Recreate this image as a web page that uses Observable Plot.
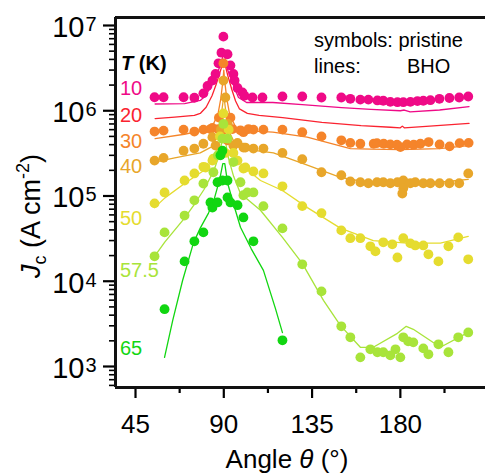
<!DOCTYPE html>
<html><head><meta charset="utf-8">
<script src="https://cdn.jsdelivr.net/npm/d3@7"></script>
<script src="https://cdn.jsdelivr.net/npm/@observablehq/plot@0.6"></script>
<style>
body{margin:0;background:#fff;}
svg{display:block;}
</style></head><body><div id="chart"></div>
<script>
// ---- tick values ----
const xMajor = [45, 90, 135, 180];
const xMinor = [67.5, 112.5, 157.5, 202.5];
const yMajor = [1e3, 1e4, 1e5, 1e6, 1e7];
const yExp = ["3", "4", "5", "6", "7"];
const yMinor = [];
for (let k = 2; k <= 6; k++) for (let m = 2; m <= 9; m++) { const v = m * 10 ** k; if (v > 567 && v < 1.24e7) yMinor.push(v); }

// ---- temperatures / colours ----
const temps = ["10", "20", "30", "40", "50", "57.5", "65"];
const colors = ["#ef0a87", "#fa2330", "#f5842a", "#e8a62a", "#e5dc2f", "#a8e43a", "#11d611"];

// ---- pristine (symbols) ----
const p10A = [54.7,59.3,69.5,75,79.6,81.7,84.2,85.8,87.3,88.8,89.8,91.9,93.4,94.9,95.5,97,99.5,100.5,104.6,109.7,119.9,130,139.8,149.9,154.5,159.6,163.7,168.3,171.3,174.9,178.5,181.5,185.1,188.7,191.7,195.3,199.9,205,210,214.6];
const p10J = [1.44e6,1.44e6,1.44e6,1.42e6,1.6e6,1.95e6,2.26e6,2.7e6,3.6e6,4.8e6,7.4e6,4.6e6,3.4e6,2.7e6,2.26e6,1.85e6,1.64e6,1.5e6,1.43e6,1.43e6,1.47e6,1.47e6,1.43e6,1.43e6,1.38e6,1.35e6,1.35e6,1.32e6,1.31e6,1.27e6,1.26e6,1.26e6,1.27e6,1.3e6,1.31e6,1.33e6,1.38e6,1.41e6,1.43e6,1.47e6];
const p30A = [54.7,59.3,69.5,75,79.6,83.2,84.2,87.2,87.5,89.3,89.8,91.9,93.4,94.4,98.5,100,102.6,105.1,110.2,119.9,130,139.8,149.9,154.5,159.6,166.4,168.1,171.5,174.9,178.3,180,183.4,186.8,190.2,194.4,200,205.1,210.2,214.8];
const p30J = [5.7e5,5.85e5,6.0e5,5.7e5,6.0e5,6.1e5,6.3e5,6.1e5,8.3e5,5.9e5,3.6e6,4.5e5,8.3e5,6.1e5,5.9e5,5.6e5,6.1e5,6.0e5,6.0e5,6.0e5,5.6e5,5.0e5,4.5e5,4.2e5,4.1e5,4.1e5,4.17e5,4.1e5,4.03e5,4.0e5,3.74e5,4.03e5,4.0e5,4.1e5,4.29e5,4.03e5,3.82e5,4.17e5,4.2e5];
const p40A = [54.7,59.3,69.5,75,79.6,84.2,85.8,88.5,89.8,90.8,92,94.9,97,100,101,105.1,110.2,119.9,130,139.8,149.9,154.5,159.6,163.7,168.1,171.3,174.9,178.5,181.5,181.5,181,185.1,187.6,191.7,195.3,200,205,210,214.6];
const p40J = [2.6e5,2.8e5,3.4e5,3.6e5,4.1e5,4.9e5,3.9e5,6e5,2.26e6,1.43e6,7e5,3.9e5,4.2e5,3.7e5,3.7e5,3.6e5,3.6e5,3.2e5,2.7e5,1.9e5,1.75e5,1.48e5,1.45e5,1.41e5,1.45e5,1.45e5,1.41e5,1.45e5,1.52e5,1.23e5,1.07e5,1.41e5,1.45e5,1.41e5,1.41e5,1.41e5,1.41e5,1.41e5,1.84e5];
const p50A = [54.7,59.8,70,75,79.6,80.7,84.2,84.7,88,89.8,90.8,92.5,94.9,97,100,101,105.1,110.2,119.9,130,139.8,149.9,154.5,159.6,164.7,167.3,171.3,175.9,178.5,181.5,185.1,187.6,191.7,194.3,199.4,204.5,209.5,214.6];
const p50J = [8.2e4,1.1e5,1.52e5,1.84e5,2.2e5,2.16e5,2.6e5,2.75e5,5e5,9.3e5,3.2e5,6e5,3.2e5,2.6e5,2.1e5,2.16e5,1.94e5,1.84e5,1.3e5,7.6e4,6.3e4,3.95e4,3.2e4,3.2e4,2.57e4,2.24e4,2.86e4,2.71e4,1.9e4,3.2e4,2.78e4,2.63e4,2.63e4,2.07e4,1.71e4,2.57e4,3.27e4,1.81e4];
const p575A = [54.7,59.8,70,75,79.6,84.7,87,89.3,89.8,91.9,94.9,98.5,100,102,105.1,110.2,119.9,130,139.8,149.9,154.5,159.6,164.7,168.3,171.3,174.9,177.5,180,181.5,184,186.6,191.7,194.3,199.4,204.5,209.5,214.6];
const p575J = [1.96e4,3.74e4,5.9e4,8.9e4,1.4e5,1.9e5,3e5,4.7e5,7e5,4.7e5,2.5e5,1.45e5,1.02e5,1.1e5,1.1e5,7.6e4,4.17e4,1.58e4,7.6e3,2.96e3,2.2e3,1.28e3,1.59e3,1.47e3,1.47e3,1.35e3,1.59e3,1.28e3,2.2e3,1.97e3,1.92e3,1.63e3,1.39e3,1.82e3,1.47e3,2.2e3,2.51e3];
const p65A = [59.8,70,75,79.6,83.2,84.2,86.8,86.8,88.3,89.3,89.3,91.9,91.9,93.4,97,100,105.1,119.9];
const p65J = [4.7e3,1.71e4,2.94e4,3.74e4,8.4e4,7.3e4,8.4e4,1.45e5,3e5,3.4e5,1.52e5,1.52e5,9.6e4,8.4e4,7.8e4,5.6e4,2.94e4,2.03e3];

// ---- BHO (lines) ----
const l10A = [55,70,78,80.7,83.7,86,88,89.5,90,90.5,92,95,97.5,101.6,115,130,150,165,180,182,185,200,215];
const l10J = [1.2e6,1.21e6,1.32e6,1.5e6,1.97e6,2.5e6,3.3e6,4.3e6,4.6e6,4.3e6,3e6,1.97e6,1.43e6,1.25e6,1.25e6,1.18e6,1.09e6,1.04e6,1.0e6,1.02e6,0.97e6,1.02e6,1.12e6];
const l20A = [55,65,75,78,81,84,86,88,89.5,90,90.5,92,94,96,98,102,108,120,140,160,175,180,181,182,195,215];
const l20J = [8.1e5,8.4e5,8.8e5,9.3e5,1.1e6,1.5e6,2.0e6,2.8e6,3.6e6,4.0e6,3.6e6,2.6e6,1.8e6,1.3e6,1.05e6,9.3e5,8.8e5,8.3e5,7.3e5,6.7e5,6.4e5,6.3e5,6.6e5,6.3e5,6.6e5,7.1e5];
const l30A = [55,70,79,84,87,88.5,89.5,90,90.5,91.5,93,96,98.5,115,132.5,154.5,165,180,200,214.6];
const l30J = [4.7e5,5.3e5,5.9e5,6.5e5,9e5,1.4e6,2.2e6,3.0e6,2.2e6,1.4e6,9e5,6.5e5,5.9e5,5.6e5,4.9e5,3.6e5,3.55e5,3.5e5,3.6e5,3.9e5];
const l40A = [54.7,65,78,84,87,89,90,91,93,96,98.5,115.3,132.6,149.4,163.2,183.5,200,214.6];
const l40J = [2.5e5,2.8e5,3.2e5,3.8e5,5.5e5,1.0e6,1.5e6,1.0e6,5.5e5,4e5,3.6e5,3.2e5,2.3e5,1.65e5,1.45e5,1.4e5,1.45e5,1.57e5];
const l50A = [54.7,60,70,80,85,88,90,92,95,100,108.7,119.9,132.6,149.4,166.2,183.5,200.4,214.6];
const l50J = [7.3e4,9.5e4,1.4e5,2e5,2.8e5,4.5e5,7e5,4.5e5,3e5,2.2e5,1.52e5,1.16e5,7.3e4,4.2e4,3.0e4,2.8e4,2.8e4,3.36e4];
const l575A = [54.7,60,70,75,80,85,88,89.5,90.5,92,95,98.5,108.7,119.9,130,140.8,149.4,159.6,166.2,178.5,183,186.6,200.4,214.6];
const l575J = [1.96e4,2.9e4,5.5e4,8e4,1.2e5,2e5,3.2e5,5e5,5e5,3e5,1.7e5,1.07e5,6.8e4,3.27e4,1.62e4,5.97e3,3.04e3,1.68e3,1.68e3,2.45e3,2.96e3,2.73e3,1.68e3,2.51e3];
const l65A = [59.8,64,69,74.5,78,82.2,85,88,89.5,90.5,92,95,98.5,104,110.2,116.3,119.9];
const l65J = [1.28e3,3.5e3,1.02e4,2.8e4,4.2e4,6.3e4,9e4,1.6e5,2.4e5,2.4e5,1.4e5,8e4,4.3e4,2.4e4,1.34e4,4.8e3,2.5e3];

const symbolSets = [["10", p10A, p10J], ["30", p30A, p30J], ["40", p40A, p40J], ["50", p50A, p50J], ["57.5", p575A, p575J], ["65", p65A, p65J]];
const lineSets = [["10", l10A, l10J], ["20", l20A, l20J], ["30", l30A, l30J], ["40", l40A, l40J], ["50", l50A, l50J], ["57.5", l575A, l575J], ["65", l65A, l65J]];
const pts = symbolSets.flatMap(([T, A, J]) => A.map((a, i) => ({T, a, j: J[i]})));
const lns = lineSets.flatMap(([T, A, J]) => A.map((a, i) => ({T, a, j: J[i]})));

const FONT = "'Liberation Sans', Arial, sans-serif";
const xDom = [34.8, 223.4], yDom = [567, 1.241e7];

const plot = Plot.plot({
  width: 485, height: 474,
  marginLeft: 115, marginRight: 0, marginTop: 17, marginBottom: 87,
  style: {fontFamily: FONT, background: "white", color: "black"},
  x: {domain: xDom},
  y: {type: "log", domain: yDom},
  color: {type: "ordinal", domain: temps, range: colors},
  marks: [
    Plot.line(lns, {x: "a", y: "j", z: "T", stroke: "T", strokeWidth: 1.3}),
    Plot.dot(pts, {x: "a", y: "j", fill: "T", r: 4.9}),
    Plot.axisX(xMajor, {tickSize: 11, tickPadding: 16, strokeWidth: 2.2, fontSize: 26, label: null, tickFormat: d => String(d), fill: "black"}),
    Plot.axisX(xMinor, {tickSize: 6, strokeWidth: 2.2, tickFormat: () => "", label: null}),
    Plot.axisY(yMajor, {tickSize: 12, strokeWidth: 2.2, tickFormat: () => "", label: null}),
    Plot.axisY(yMinor, {tickSize: 6, strokeWidth: 1.6, tickFormat: () => "", label: null}),
    Plot.text(yMajor, {y: d => d, text: () => "10", frameAnchor: "left", textAnchor: "end", dx: -31, dy: 2, fontSize: 29, fill: "black"}),
    Plot.text(yMajor, {y: d => d, text: (d, i) => yExp[i], frameAnchor: "left", textAnchor: "start", dx: -30, dy: -1, fontSize: 20, fill: "black"}),
    Plot.ruleX([xDom[0]], {stroke: "#111", strokeWidth: 3}),
    Plot.ruleY([yDom[0], yDom[1]], {stroke: "#111", strokeWidth: 3})
  ]
});
document.getElementById("chart").appendChild(plot);

// ---- annotations ----
const svg = d3.select(plot);
const g = svg.append("g").attr("font-family", FONT).attr("text-anchor", "start");
// y title
const yt = g.append("text").attr("transform", "translate(40,216) rotate(-90)").attr("text-anchor", "middle").attr("font-size", 27).attr("fill", "black");
yt.append("tspan").attr("font-style", "italic").text("J");
yt.append("tspan").attr("font-size", 18).attr("dy", 6).text("c");
yt.append("tspan").attr("dy", -6).text(" (A cm");
yt.append("tspan").attr("font-size", 18).attr("dy", -11).text("-2");
yt.append("tspan").attr("dy", 11).text(")");
// x title
const xt = g.append("text").attr("x", 287).attr("y", 468).attr("text-anchor", "middle").attr("font-size", 26).attr("fill", "black");
xt.append("tspan").text("Angle ");
xt.append("tspan").attr("font-style", "italic").text("θ");
xt.append("tspan").text(" (°)");
// T (K)
const tk = g.append("text").attr("x", 121).attr("y", 70).attr("font-size", 20).attr("font-weight", "bold").attr("fill", "black");
tk.append("tspan").attr("font-style", "italic").text("T");
tk.append("tspan").text(" (K)");
// temperature labels
const labelY = [95, 122, 148, 173, 225, 277, 355];
temps.forEach((t, i) => {
  g.append("text").attr("x", 120).attr("y", labelY[i]).attr("font-size", 20).attr("fill", colors[i]).text(t);
});
// legend
g.append("text").attr("x", 314).attr("y", 47).attr("font-size", 20).attr("fill", "black").text("symbols: pristine");
g.append("text").attr("x", 314).attr("y", 73).attr("font-size", 20).attr("fill", "black").text("lines:");
g.append("text").attr("x", 407).attr("y", 73).attr("font-size", 20).attr("fill", "black").text("BHO");
</script></body></html>
